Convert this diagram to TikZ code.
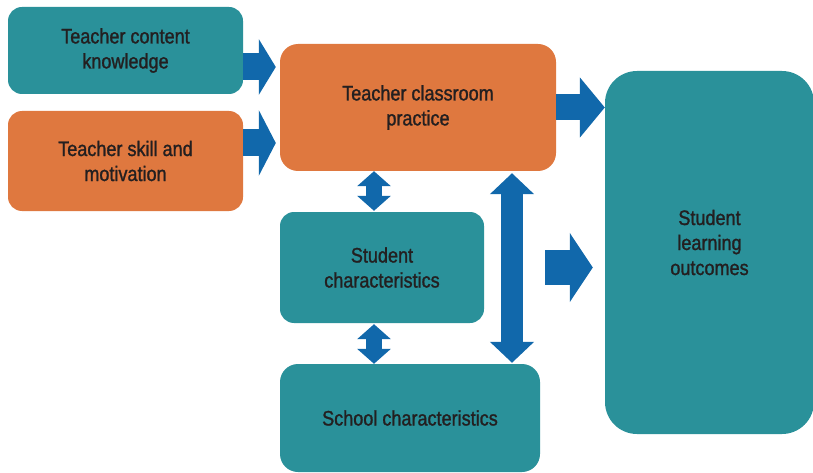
\documentclass[tikz,border=0pt]{standalone}
\usepackage{fontspec}
\setmainfont{Liberation Sans}[FakeStretch=0.86, FakeBold=1.2]
\usepackage{tikz}
\usetikzlibrary{arrows.meta,positioning,calc}
\definecolor{boxteal}{RGB}{42,145,154}
\definecolor{boxorange}{RGB}{223,120,63}
\definecolor{arrowblue}{RGB}{17,104,171}
\definecolor{textdark}{RGB}{35,31,32}

\begin{document}
\begin{tikzpicture}[x=1pt, y=-1pt,
    tealblock/.style={rectangle, fill=boxteal, rounded corners=14pt,
        align=center, text=textdark, font=\fontsize{21}{25}\selectfont},
    orangeblock/.style={tealblock, fill=boxorange},
    arr/.style={arrowblue, -{Triangle[#1]}},
    dbl/.style={arrowblue, {Triangle[#1]}-{Triangle[#1]}}
]
    \useasboundingbox (0,0) rectangle (813,473);

    % Inputs
    \node[tealblock, minimum width=235pt, minimum height=87pt] (tck) at (125.5,50.5)
        {Teacher content\\knowledge};
    \node[orangeblock, minimum width=235pt, minimum height=100pt] (tsm) at (125.5,161)
        {Teacher skill and\\motivation};

    % Practice and context
    \node[orangeblock, rounded corners=18pt, minimum width=276pt, minimum height=127pt] (tcp) at (418,107.5)
        {Teacher classroom\\practice};
    \node[tealblock, minimum width=204pt, minimum height=111pt] (sc) at (382,267.5)
        {Student\\characteristics};
    \node[tealblock, rounded corners=18pt, minimum width=260pt, minimum height=108pt] (schc) at (410,418)
        {School characteristics};

    % Outcome (text sits a little above the middle)
    \node[tealblock, rounded corners=32pt, minimum width=209pt, minimum height=363pt,
        label={[tealblock, fill=none, yshift=10pt]center:{Student\\learning\\outcomes}}] (slo) at (709.5,252.5) {};

    % Arrows into practice
    \draw[arr={length=17pt, width=55pt}, line width=27pt, shorten >=4pt]
        ([yshift=-16.5pt]tck.east) -- ([yshift=-16.5pt]tck.east -| tcp.west);
    \draw[arr={length=17pt, width=65pt}, line width=27pt, shorten >=4pt]
        ([yshift=18pt]tsm.east) -- ([yshift=18pt]tsm.east -| tcp.west);

    % Arrows to outcomes
    \draw[arr={length=25pt, width=59pt}, line width=26pt]
        (tcp.east) -- (tcp.east -| slo.west);
    \draw[arr={length=23pt, width=68pt}, line width=35pt, shorten <=61pt, shorten >=12pt]
        (sc.east) -- (sc.east -| slo.west);

    % Two-way links
    \draw[dbl={length=15pt, width=33pt}, line width=16pt, shorten <=1pt]
        ([xshift=-8pt]sc.north) -- ([xshift=-8pt]sc.north |- tcp.south);
    \draw[dbl={length=15pt, width=33pt}, line width=16pt, shorten >=1pt]
        ([xshift=-36pt]schc.north) -- ([xshift=-36pt]schc.north |- sc.south);
    \draw[dbl={length=21pt, width=43pt}, line width=22pt, shorten <=1pt, shorten >=2pt]
        ([xshift=102pt]schc.north) -- ([xshift=102pt]schc.north |- tcp.south);
\end{tikzpicture}
\end{document}
